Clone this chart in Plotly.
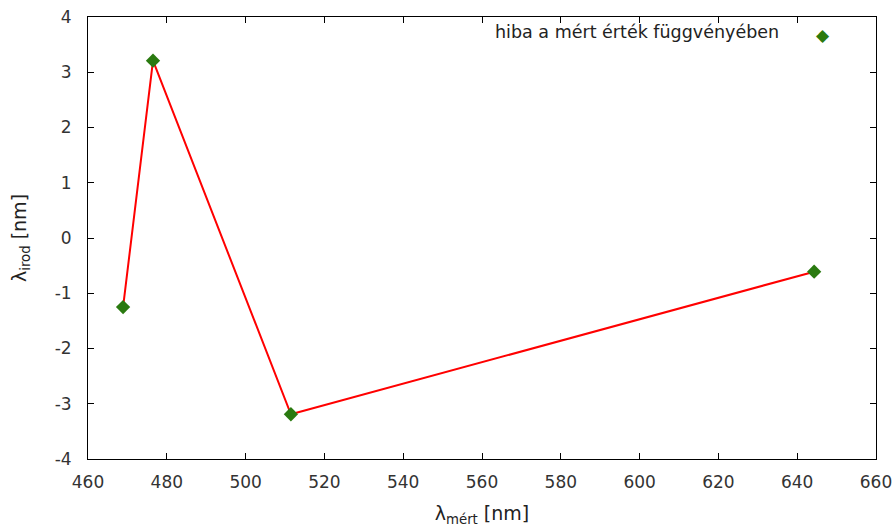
import plotly.graph_objects as go

lam_mert = [468.9, 476.5, 511.5, 644.3]
hiba = [-1.25, 3.21, -3.19, -0.61]
legend_label = "hiba a mért érték függvényében"
x_ticks = list(range(460, 661, 20))
y_ticks = list(range(-4, 5))

green = "#2a7a10"
red = "#ff0000"
FONT = "DejaVu Sans"

fig = go.Figure()
fig.add_trace(go.Scatter(x=lam_mert, y=hiba, mode="lines",
                         line=dict(color=red, width=2), showlegend=False, hoverinfo="skip"))
fig.add_trace(go.Scatter(x=lam_mert, y=hiba, mode="markers", name=legend_label,
                         marker=dict(symbol="diamond", size=11, color=green), showlegend=False))

# gnuplot-style key: text on the left, symbol on the right
fig.add_annotation(xref="paper", yref="paper", x=0.879, y=0.965, text=legend_label,
                   showarrow=False, xanchor="right", yanchor="middle",
                   font=dict(family=FONT, size=17.5, color="#222222"))
fig.add_annotation(xref="paper", yref="paper", x=0.933, y=0.959, text="◆",
                   showarrow=False, xanchor="center", yanchor="middle",
                   font=dict(family="DejaVu Sans", size=17, color=green))

axis_common = dict(showline=True, linecolor="black", linewidth=1, mirror="ticks",
                   ticks="inside", ticklen=6, tickcolor="black", showgrid=False,
                   zeroline=False, automargin=False,
                   tickfont=dict(family=FONT, size=17, color="#333333"))

fig.update_xaxes(range=[460, 660], tickvals=x_ticks, ticktext=[str(v) for v in x_ticks],
                 ticklabelstandoff=8,
                 title=dict(text="λ<sub>mért</sub> [nm]", standoff=15,
                            font=dict(family=FONT, size=19, color="#222222")),
                 **axis_common)
fig.update_yaxes(range=[-4, 4], tickvals=y_ticks, ticktext=[str(v) for v in y_ticks],
                 ticklabelstandoff=12,
                 title=dict(text="λ<sub>irod</sub> [nm]", standoff=22,
                            font=dict(family=FONT, size=19, color="#222222")),
                 **axis_common)

fig.update_layout(width=894, height=528, margin=dict(l=88, r=18, t=17, b=69),
                  plot_bgcolor="white", paper_bgcolor="white")

fig.write_html("out.html", config={"displayModeBar": False},
               post_script="document.body.style.margin='0';")
